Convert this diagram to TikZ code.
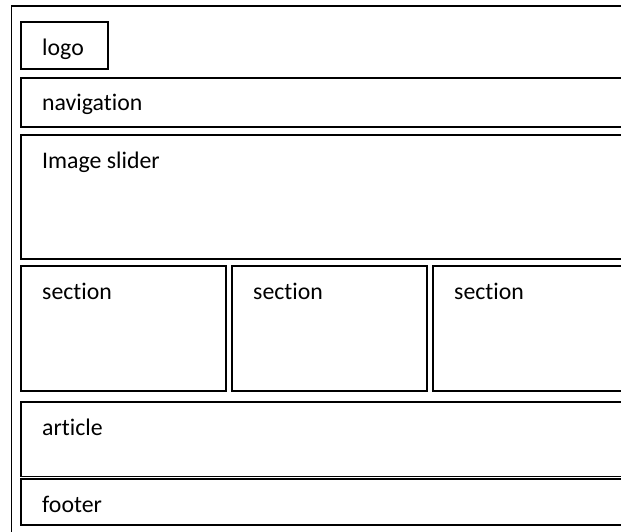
\documentclass[tikz,border=0pt]{standalone}
\usepackage{fontspec}
\setmainfont{Carlito}[Ligatures=NoCommon]
\usetikzlibrary{positioning,calc}
\tikzset{
  block/.style={draw,line width=1.8pt,anchor=north west,inner sep=0pt,outer sep=0pt},
  blocktext/.style={anchor=base west,inner sep=0pt,font=\fontsize{23.8}{28}\selectfont}
}

\begin{document}
\begin{tikzpicture}[x=1pt,y=-1pt]
  \useasboundingbox (0,0) rectangle (621,531);
  \clip (0,0) rectangle (621,531);

  % page frame
  \node[block,minimum width=640pt,minimum height=560pt] (page) at (11.5,6) {};

  % header
  \node[block,minimum width=87pt,minimum height=47pt] (logo) at (21,22) {};
  \node[blocktext] (logo-txt) at ($(logo.north west)+(21,33)$) {logo};
  \node[block,minimum width=619pt,minimum height=49pt] (nav) at (21,78) {};
  \node[blocktext] (nav-txt) at ($(nav.north west)+(21,32)$) {navigation};

  % slider
  \node[block,minimum width=619pt,minimum height=124pt] (slider) at (21,135) {};
  \node[blocktext] (slider-txt) at ($(slider.north west)+(21,33)$) {Image slider};

  % three sections
  \foreach \name/\x/\w in {secA/21/205,secB/232/195,secC/433/207} {
    \node[block,minimum width=\w pt,minimum height=125pt] (\name) at (\x,266) {};
    \node[blocktext] (\name-txt) at ($(\name.north west)+(21,33)$) {section};
  }

  % article and footer
  \node[block,minimum width=619pt,minimum height=74.5pt] (article) at (21,402) {};
  \node[blocktext] (article-txt) at ($(article.north west)+(21,33)$) {article};
  \node[block,minimum width=619pt,minimum height=46pt] (footer) at (21,479) {};
  \node[blocktext] (footer-txt) at ($(footer.north west)+(21,33)$) {footer};
\end{tikzpicture}
\end{document}
